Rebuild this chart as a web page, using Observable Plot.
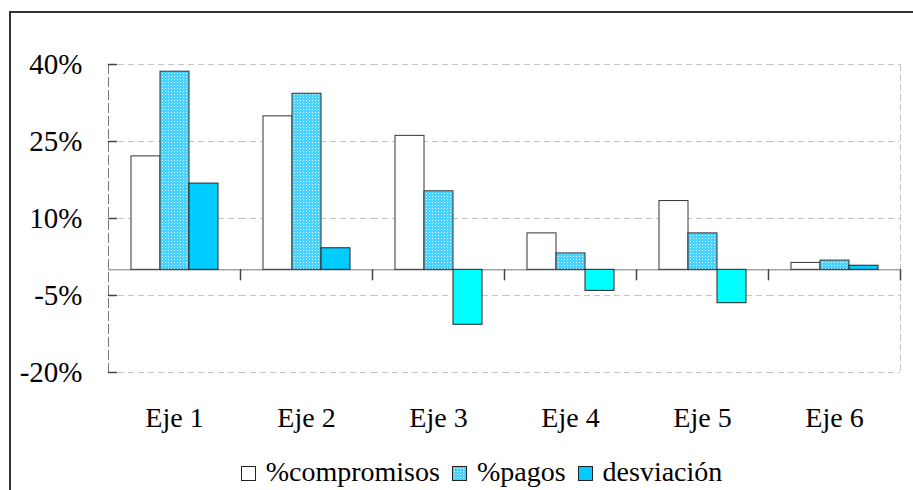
<!DOCTYPE html>
<html><head><meta charset="utf-8">
<script src="https://cdn.jsdelivr.net/npm/d3@7"></script>
<script src="https://cdn.jsdelivr.net/npm/@observablehq/plot@0.6"></script>
<style>
html,body{margin:0;padding:0;background:#fff;overflow:hidden;width:913px;height:490px;}
#wrap{position:relative;width:913px;height:490px;font-family:"Liberation Serif","Times New Roman",serif;}
#chart{position:absolute;left:0;top:0;}
#border{position:absolute;left:9px;top:11px;width:1000px;height:1000px;border-left:2px solid #333;border-top:2px solid #333;pointer-events:none;}
#legend{position:absolute;left:0;top:457px;width:913px;padding-left:50px;box-sizing:border-box;text-align:center;font-size:28px;line-height:30px;height:30px;color:#000;white-space:nowrap}
.sw{display:inline-block;width:15px;height:15px;border:1px solid #222;box-sizing:border-box;margin-right:10px;vertical-align:baseline}
.item{margin-right:12px}
.item:last-child{margin-right:0}
</style></head><body><div id="wrap"><div id="chart"></div><div id="legend"></div><div id="border"></div></div>
<script>
const categories = ["Eje 1","Eje 2","Eje 3","Eje 4","Eje 5","Eje 6"];
const seriesNames = ["%compromisos","%pagos","desviación"];
const compromisos = [22.1, 29.9, 26.1, 7.1, 13.4, 1.35];
const pagos = [38.6, 34.3, 15.3, 3.2, 7.1, 1.8];
const desviacion = [16.8, 4.2, -10.7, -4.1, -6.5, 0.8];
const yTicks = [-20, -5, 10, 25, 40];

const rows = [];
categories.forEach((c, i) => {
  rows.push({cat: c, serie: seriesNames[0], value: compromisos[i]});
  rows.push({cat: c, serie: seriesNames[1], value: pagos[i]});
  rows.push({cat: c, serie: seriesNames[2], value: desviacion[i]});
});
const lineShape = {draw(ctx, l) { ctx.moveTo(0, 0); ctx.lineTo(0, -l); }};

const chart = Plot.plot({
  width: 913, height: 450,
  marginLeft: 106, marginRight: 12, marginTop: 64, marginBottom: 78,
  style: {fontFamily: '"Liberation Serif", "Times New Roman", serif', fontSize: "28px", color: "#000", background: "transparent", overflow: "visible"},
  fx: {domain: categories, padding: 0, label: null},
  x: {domain: seriesNames, paddingInner: 0, paddingOuter: 0.73, axis: null},
  y: {domain: [-20, 40], label: null},
  marks: [
    Plot.gridY(yTicks, {stroke: "#c4c4c4", strokeOpacity: 1, strokeDasharray: "6,4"}),
    Plot.frame({anchor: "right", facetAnchor: "right", stroke: "#c4c4c4", strokeDasharray: "6,4"}),
    Plot.frame({anchor: "left", facetAnchor: "left", stroke: "#777", strokeDasharray: "9,4"}),
    Plot.ruleY([0], {stroke: "#777"}),
    Plot.barY(rows.filter(d => d.serie === seriesNames[0]), {fx: "cat", x: "serie", y: "value", fill: "#fff", stroke: "#333"}),
    Plot.barY(rows.filter(d => d.serie === seriesNames[1]), {fx: "cat", x: "serie", y: "value", fill: "url(#pagosPat)", stroke: "#333"}),
    Plot.barY(rows.filter(d => d.serie === seriesNames[2] && d.value >= 0), {fx: "cat", x: "serie", y: "value", fill: "#00ccff", stroke: "#222"}),
    Plot.barY(rows.filter(d => d.serie === seriesNames[2] && d.value < 0), {fx: "cat", x: "serie", y: "value", fill: "#00ffff", stroke: "#222"}),
    Plot.vector([0], {y: d => d, frameAnchor: "right", length: 10, rotate: 180, anchor: "start", shape: lineShape, stroke: "#444"}),
    Plot.vector(yTicks, {y: d => d, frameAnchor: "left", facetAnchor: "left", length: 8, rotate: 90, anchor: "start", shape: lineShape, stroke: "#444"}),
    Plot.axisY(yTicks, {tickSize: 0, tickPadding: 26, tickFormat: d => d + "%", fontSize: 29}),
    Plot.axisFx({anchor: "bottom", tickSize: 0, tickPadding: 35, fontSize: 28, label: null})
  ]
});
const ns = "http://www.w3.org/2000/svg";
const defs = document.createElementNS(ns, "defs");
const pat = document.createElementNS(ns, "pattern");
pat.setAttribute("id", "pagosPat");
pat.setAttribute("width", "3");
pat.setAttribute("height", "3");
pat.setAttribute("patternUnits", "userSpaceOnUse");
const r1 = document.createElementNS(ns, "rect");
r1.setAttribute("width", "3"); r1.setAttribute("height", "3"); r1.setAttribute("fill", "#48d4ff");
r1.setAttribute("stroke", "none");
const r2 = document.createElementNS(ns, "rect");
r2.setAttribute("x", "1"); r2.setAttribute("y", "1");
r2.setAttribute("width", "1"); r2.setAttribute("height", "1"); r2.setAttribute("fill", "#eefbff");
r2.setAttribute("stroke", "none");
pat.appendChild(r1); pat.appendChild(r2);
defs.appendChild(pat);
chart.insertBefore(defs, chart.firstChild);
document.getElementById("chart").appendChild(chart);

const legend = document.getElementById("legend");
const swatches = [
  "background:#fff",
  "background:#48d4ff radial-gradient(#eefbff 0 0.6px, transparent 0.7px) 0 0/3px 3px",
  "background:#00ccff"
];
legend.innerHTML = seriesNames.map((s, i) =>
  `<span class="item"><span class="sw" style="${swatches[i]}"></span>${s}</span>`).join("");
</script></body></html>
